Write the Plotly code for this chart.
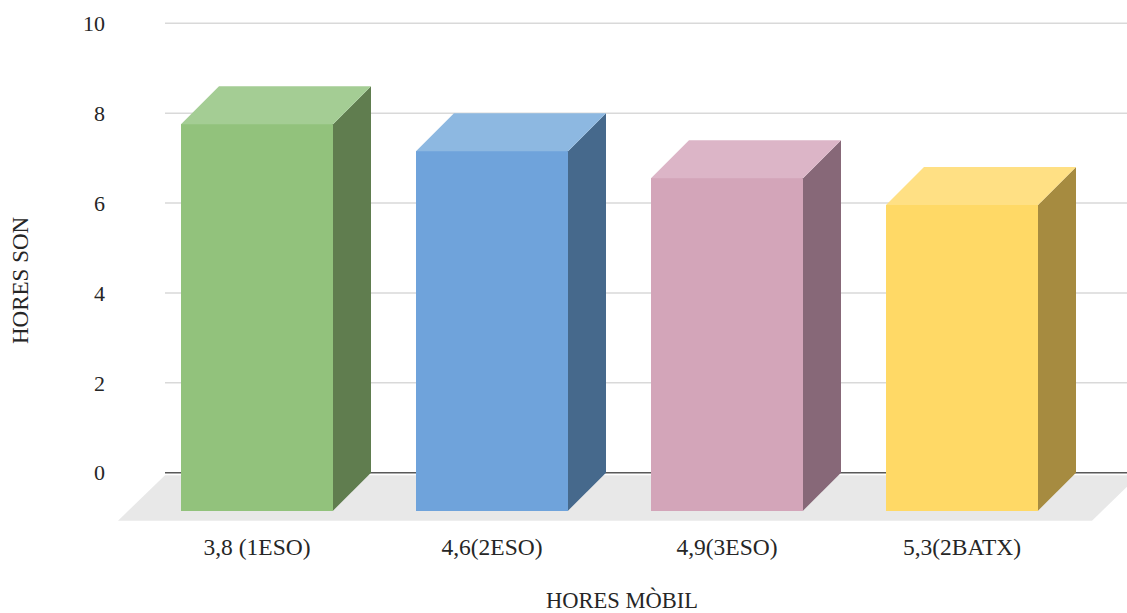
import plotly.graph_objects as go

# ---------------- data ----------------
categories = ["3,8 (1ESO)", "4,6(2ESO)", "4,9(3ESO)", "5,3(2BATX)"]
hores_son = [8.6, 8.0, 7.4, 6.8]
y_ticks = [0, 2, 4, 6, 8, 10]
x_title = "HORES MÒBIL"
y_title = "HORES SON"

# ---------------- styles ----------------
front_colors = ["#92C27C", "#6FA3DB", "#D3A5B9", "#FFD966"]
top_colors = ["#A4CD94", "#8DB8E1", "#DCB5C7", "#FFE084"]
side_colors = ["#607D4F", "#46698C", "#876878", "#A68B40"]
FONT = "Liberation Serif"
TEXT_COLOR = "#262626"

# ---------------- geometry (pixels -> data units) ----------------
W, H = 1127, 613
L, R, T, B = 118, 0, 13, 83
plot_w = W - L - R
plot_h = H - T - B
PX_PER_CAT = 235.0
FIRST_CENTER_PX = 257.0
PX_PER_UNIT = 44.94
ZERO_PX = 472.7

x_lo = -(FIRST_CENTER_PX - L) / PX_PER_CAT
x_hi = x_lo + plot_w / PX_PER_CAT
y_hi = (ZERO_PX - T) / PX_PER_UNIT
y_lo = y_hi - plot_h / PX_PER_UNIT

bar_w = 152.0 / PX_PER_CAT          # front face width
dx = 38.0 / PX_PER_CAT              # depth offset (x)
dy = 38.0 / PX_PER_UNIT             # depth offset (y)
floor_front = 48.0 / PX_PER_UNIT
floor_back = 2.5 / PX_PER_UNIT
floor_dx = 47.0 / PX_PER_CAT
back_left = x_lo + floor_dx

n = len(categories)
xs = list(range(n))
fl_left = x_lo
fl_right = (n - 1) + (1092 - FIRST_CENTER_PX - 3 * PX_PER_CAT) / PX_PER_CAT

fig = go.Figure()

# front faces
fig.add_trace(go.Bar(
    x=xs, y=hores_son, base=[-dy] * n, width=bar_w,
    marker=dict(color=front_colors, line=dict(width=0)),
    hoverinfo="skip", showlegend=False))

# side and top faces
for i, v in enumerate(hores_son):
    xr = i + bar_w / 2
    xl = i - bar_w / 2
    fig.add_trace(go.Scatter(
        x=[xr, xr + dx, xr + dx, xr, xr],
        y=[-dy, 0, v, v - dy, -dy],
        fill="toself", fillcolor=side_colors[i], mode="lines", line=dict(width=0),
        hoverinfo="skip", showlegend=False))
    fig.add_trace(go.Scatter(
        x=[xl, xl + dx, xr + dx, xr, xl],
        y=[v - dy, v, v, v - dy, v - dy],
        fill="toself", fillcolor=top_colors[i], mode="lines", line=dict(width=0),
        hoverinfo="skip", showlegend=False))

# floor and back-wall gridlines
shapes = [dict(type="path", xref="x", yref="y", layer="below",
               path=(f"M{fl_left},{-floor_front} L{fl_left + floor_dx},{-floor_back} "
                     f"L{fl_right + floor_dx},{-floor_back} L{fl_right},{-floor_front} Z"),
               fillcolor="#E8E8E8", line=dict(width=0))]
gx0 = (back_left - x_lo) / (x_hi - x_lo)
for t in y_ticks:
    shapes.append(dict(type="line", xref="paper", yref="y", x0=gx0, x1=1, y0=t, y1=t,
                       line=dict(color="#595959" if t == 0 else "#D9D9D9", width=1.6),
                       layer="below"))

fig.update_layout(
    width=W, height=H, autosize=False,
    margin=dict(l=L, r=R, t=T, b=B, pad=0),
    paper_bgcolor="white", plot_bgcolor="white",
    font=dict(family=FONT, color=TEXT_COLOR),
    shapes=shapes,
    bargap=0,
    xaxis=dict(range=[x_lo, x_hi], tickmode="array", tickvals=xs, ticktext=categories,
               showgrid=False, zeroline=False, showline=False, ticks="",
               tickfont=dict(family=FONT, size=23.5, color=TEXT_COLOR), fixedrange=True),
    yaxis=dict(range=[y_lo, y_hi], tickmode="array", tickvals=y_ticks,
               showgrid=False, zeroline=False, showline=False, ticks="",
               ticklabelstandoff=12,
               tickfont=dict(family=FONT, size=22, color=TEXT_COLOR), fixedrange=True),
    annotations=[
        dict(text=x_title, xref="paper", yref="paper", x=(622 - L) / plot_w,
             y=(H - B - 600) / plot_h, xanchor="center", yanchor="middle",
             showarrow=False, font=dict(family=FONT, size=22.5, color=TEXT_COLOR)),
        dict(text=y_title, xref="paper", yref="paper", x=(20 - L) / plot_w,
             y=(H - B - 280) / plot_h, xanchor="center", yanchor="middle",
             textangle=-90, showarrow=False,
             font=dict(family=FONT, size=23, color=TEXT_COLOR)),
    ],
)

fig.write_html("out.html")
